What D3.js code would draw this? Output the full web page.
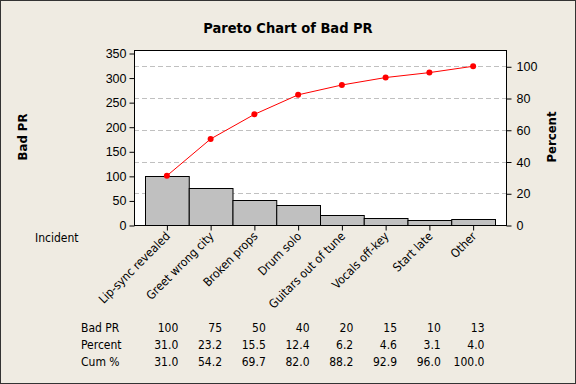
<!DOCTYPE html>
<html>
<head>
<meta charset="utf-8">
<script src="https://cdn.jsdelivr.net/npm/d3@7"></script>
<style>
  body { margin: 0; background: #efebe2; }
  svg { display: block; font-family: "DejaVu Sans Condensed", "DejaVu Sans", sans-serif; }
</style>
</head>
<body>
<svg id="chart" width="576" height="384"></svg>
<script>
const categories = ['Lip-sync revealed', 'Greet wrong city', 'Broken props', 'Drum solo',
  'Guitars out of tune', 'Vocals off-key', 'Start late', 'Other'];
const counts = [100, 75, 50, 40, 20, 15, 10, 13];
const percents = [31.0, 23.2, 15.5, 12.4, 6.2, 4.6, 3.1, 4.0];
const cumPercents = [31.0, 54.2, 69.7, 82.0, 88.2, 92.9, 96.0, 100.0];
const leftTicks = [0, 50, 100, 150, 200, 250, 300, 350];
const rightTicks = [0, 20, 40, 60, 80, 100];
const tableRows = [
  { label: 'Bad PR', values: counts.map(String) },
  { label: 'Percent', values: percents.map(d => d.toFixed(1)) },
  { label: 'Cum %', values: cumPercents.map(d => d.toFixed(1)) }
];

const svg = d3.select('#chart');
const plot = { left: 134, right: 506, top: 50, bottom: 225 };
const total = d3.sum(counts);

// background + outer frame
svg.append('rect').attr('x', 0.5).attr('y', 0.5).attr('width', 575).attr('height', 383)
  .attr('fill', '#efebe2').attr('stroke', '#333').attr('stroke-width', 1);

const x = d3.scaleBand().domain(categories).range([145, 495]).padding(0);
const y = d3.scaleLinear().domain([0, 350]).range([225, 53]);
// percent axis: 100% lines up with the total count
const yPct = d3.scaleLinear().domain([0, 100]).range([225, y(total)]);

svg.append('rect')
  .attr('x', plot.left).attr('y', plot.top)
  .attr('width', plot.right - plot.left).attr('height', plot.bottom - plot.top)
  .attr('fill', '#fff');

// dashed grid at percent ticks
svg.append('g').selectAll('line').data(rightTicks.filter(d => d > 0)).join('line')
  .attr('x1', plot.left).attr('x2', plot.right)
  .attr('y1', d => Math.round(yPct(d)) + 0.5).attr('y2', d => Math.round(yPct(d)) + 0.5)
  .attr('stroke', '#c0c0c0').attr('stroke-dasharray', '5,3');

// bars
svg.append('g').selectAll('rect').data(counts).join('rect')
  .attr('x', (d, i) => x(categories[i]) + 0.5)
  .attr('y', d => Math.round(y(d)) + 0.5)
  .attr('width', x.bandwidth())
  .attr('height', d => 225 - Math.round(y(d)))
  .attr('fill', '#c0c0c0').attr('stroke', '#000').attr('stroke-width', 1);

// cumulative line
const cx = (d, i) => x(categories[i]) + x.bandwidth() / 2;
svg.append('path').datum(cumPercents)
  .attr('fill', 'none').attr('stroke', '#ff0000').attr('stroke-width', 1)
  .attr('d', d3.line().x(cx).y(d => yPct(d)));
svg.append('g').selectAll('circle').data(cumPercents).join('circle')
  .attr('cx', cx).attr('cy', d => yPct(d)).attr('r', 3)
  .attr('fill', '#ff0000');

// frame
svg.append('rect')
  .attr('x', plot.left + 0.5).attr('y', plot.top + 0.5)
  .attr('width', plot.right - plot.left).attr('height', plot.bottom - plot.top)
  .attr('fill', 'none').attr('stroke', '#000');

// axes
const axisL = svg.append('g').attr('transform', `translate(${plot.left + 0.5},0.5)`)
  .call(d3.axisLeft(y).tickValues(leftTicks).tickSize(5).tickPadding(3));
const axisR = svg.append('g').attr('transform', `translate(${plot.right + 0.5},0.5)`)
  .call(d3.axisRight(yPct).tickValues(rightTicks).tickSize(5).tickPadding(5));
const axisB = svg.append('g').attr('transform', `translate(0.5,${plot.bottom + 0.5})`)
  .call(d3.axisBottom(x).tickSize(5).tickFormat(''));
[axisL, axisR, axisB].forEach(a => {
  a.select('.domain').remove();
  a.selectAll('line').attr('stroke', '#000');
  a.selectAll('text').attr('fill', '#000').attr('font-size', 12.5).attr('font-family', null);
});

// rotated category labels
svg.append('g').selectAll('text').data(categories).join('text')
  .attr('transform', d => `translate(${x(d) + x.bandwidth() / 2 + 4},${plot.bottom + 12}) rotate(-45)`)
  .attr('text-anchor', 'end').attr('font-size', 12).attr('fill', '#000')
  .text(d => d);

svg.append('text').attr('x', 35).attr('y', 242).attr('font-size', 12).text('Incident');

// titles
svg.append('text').attr('x', 288).attr('y', 33).attr('text-anchor', 'middle')
  .attr('font-size', 14.5).attr('font-weight', 'bold').text('Pareto Chart of Bad PR');
svg.append('text').attr('transform', 'translate(27,137) rotate(-90)').attr('text-anchor', 'middle')
  .attr('font-size', 13).attr('font-weight', 'bold').text('Bad PR');
svg.append('text').attr('transform', 'translate(556,137) rotate(-90)').attr('text-anchor', 'middle')
  .attr('font-size', 13).attr('font-weight', 'bold').text('Percent');

// data table
const rowY = [332, 349, 366];
tableRows.forEach((row, r) => {
  const g = svg.append('g');
  g.append('text').attr('x', 81).attr('y', rowY[r]).attr('font-size', 12).text(row.label);
  g.selectAll('text.v').data(row.values).join('text').attr('class', 'v')
    .attr('x', (d, i) => x(categories[i]) + x.bandwidth() * 0.76)
    .attr('y', rowY[r]).attr('text-anchor', 'end').attr('font-size', 12)
    .text(d => d);
});
</script>
</body>
</html>
